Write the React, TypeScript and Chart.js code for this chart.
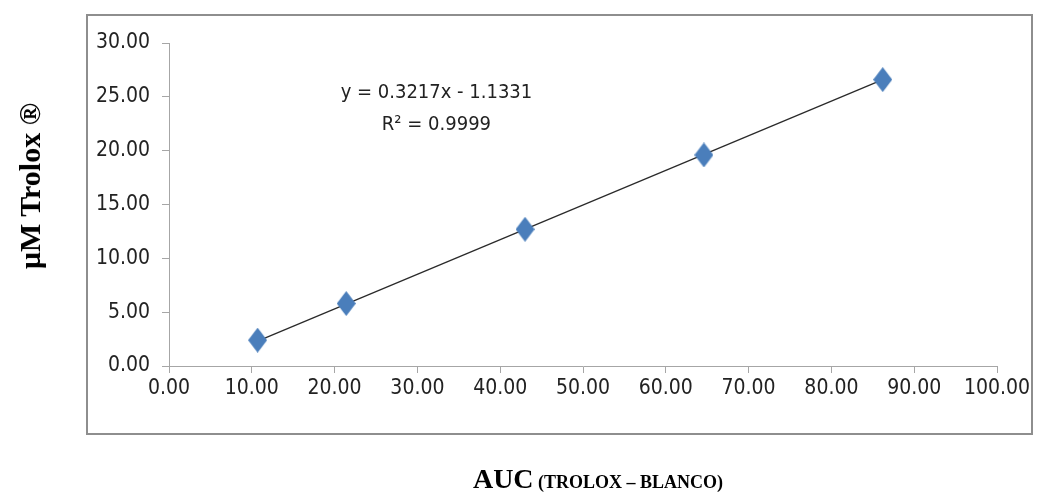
import React, { useEffect, useRef } from "react";
import { Chart, registerables } from "chart.js";

Chart.register(...registerables);

// Data
const aucValues = [10.7, 21.4, 43.0, 64.6, 86.2];
const troloxValues = [2.4, 5.8, 12.7, 19.6, 26.6];
const trendX = [10.7, 86.2];
const trendY = [2.31, 26.6];
const equationText = "y = 0.3217x - 1.1331";
const r2Text = "R\u00B2 = 0.9999";
const equationPos = { x: 32.3, y1: 25.4, y2: 22.4 };
const xTicksMax = 100;
const yTicksMax = 30;

const NARROW = '"Liberation Sans Narrow", "DejaVu Sans Condensed", "Open Sans", sans-serif';

function makeDiamond(): HTMLCanvasElement {
  const c = document.createElement("canvas");
  c.width = 19;
  c.height = 25;
  const g = c.getContext("2d")!;
  g.beginPath();
  g.moveTo(9.5, 0);
  g.lineTo(19, 12.5);
  g.lineTo(9.5, 25);
  g.lineTo(0, 12.5);
  g.closePath();
  g.fillStyle = "#4a7ebb";
  g.fill();
  return c;
}

export default function App() {
  const ref = useRef<HTMLCanvasElement | null>(null);

  useEffect(() => {
    if (!ref.current) return;
    const diamond = makeDiamond();
    const eqPlugin = {
      id: "eqPlugin",
      afterDatasetsDraw(chart: any) {
        const { ctx, scales } = chart;
        const x = scales.x.getPixelForValue(equationPos.x);
        const y1 = scales.y.getPixelForValue(equationPos.y1);
        const y2 = scales.y.getPixelForValue(equationPos.y2);
        ctx.save();
        ctx.font = `20px ${NARROW}`;
        ctx.fillStyle = "#222";
        ctx.textAlign = "center";
        ctx.textBaseline = "middle";
        ctx.fillText(equationText, x, y1);
        ctx.fillText(r2Text, x, y2);
        ctx.restore();
      },
    };
    const chart = new Chart(ref.current, {
      type: "scatter",
      data: {
        datasets: [
          {
            type: "line",
            label: "Trend",
            data: trendX.map((x, i) => ({ x, y: trendY[i] })),
            borderColor: "#2a2a2a",
            borderWidth: 1.3,
            pointRadius: 0,
            fill: false,
            order: 2,
          } as any,
          {
            label: "Trolox",
            data: aucValues.map((x, i) => ({ x, y: troloxValues[i] })),
            pointStyle: diamond as any,
            pointRadius: 10,
            backgroundColor: "#4a7ebb",
            borderColor: "#4a7ebb",
            order: 1,
          },
        ],
      },
      options: {
        animation: false,
        responsive: false,
        maintainAspectRatio: false,
        layout: { padding: { left: 0, right: 41, top: 43, bottom: 0 } },
        plugins: {
          legend: { display: false },
          tooltip: { enabled: false },
        },
        scales: {
          x: {
            type: "linear",
            min: 0,
            max: xTicksMax,
            afterFit(scale: any) {
              scale.height = 129;
            },
            ticks: {
              stepSize: 10,
              padding: 3,
              color: "#222",
              font: { family: NARROW, size: 21 },
              callback: (v: any) => Number(v).toFixed(2),
            },
            grid: {
              display: true,
              drawOnChartArea: false,
              drawTicks: true,
              tickLength: 7,
              color: "#a6a6a6",
            },
            border: { display: true, color: "#a6a6a6", width: 1 },
          },
          y: {
            type: "linear",
            min: 0,
            max: yTicksMax,
            afterFit(scale: any) {
              scale.width = 169;
            },
            ticks: {
              stepSize: 5,
              padding: 12,
              color: "#222",
              font: { family: NARROW, size: 21 },
              callback: (v: any) => Number(v).toFixed(2),
            },
            grid: {
              display: true,
              drawOnChartArea: false,
              drawTicks: true,
              tickLength: 7,
              color: "#a6a6a6",
            },
            border: { display: true, color: "#a6a6a6", width: 1 },
          },
        },
      },
      plugins: [eqPlugin],
    });
    return () => chart.destroy();
  }, []);

  return (
    <div
      style={{
        position: "absolute",
        left: 0,
        top: 0,
        width: 1038,
        height: 495,
        background: "#fff",
        overflow: "hidden",
      }}
    >
      <div
        style={{
          position: "absolute",
          left: 86,
          top: 14,
          width: 947,
          height: 421,
          border: "2px solid #8e8e8e",
          boxSizing: "border-box",
        }}
      />
      <canvas
        ref={ref}
        width={1038}
        height={495}
        style={{ position: "absolute", left: 0, top: 0, width: 1038, height: 495 }}
      />
      <div
        style={{
          position: "absolute",
          left: 30,
          top: 186,
          transform: "translate(-50%, -50%) rotate(-90deg)",
          whiteSpace: "nowrap",
          fontFamily: '"Liberation Serif", "DejaVu Serif", serif',
          fontWeight: "bold",
          fontSize: 30,
          lineHeight: "32px",
          color: "#000",
        }}
      >
        μM Trolox ®
      </div>
      <div
        style={{
          position: "absolute",
          left: 598,
          top: 481,
          transform: "translate(-50%, -50%)",
          whiteSpace: "nowrap",
          fontFamily: '"Liberation Serif", "DejaVu Serif", serif',
          fontWeight: "bold",
          color: "#000",
          lineHeight: "30px",
        }}
      >
        <span style={{ fontSize: 28 }}>AUC</span>
        <span style={{ fontSize: 18 }}> (TROLOX – BLANCO)</span>
      </div>
    </div>
  );
}
